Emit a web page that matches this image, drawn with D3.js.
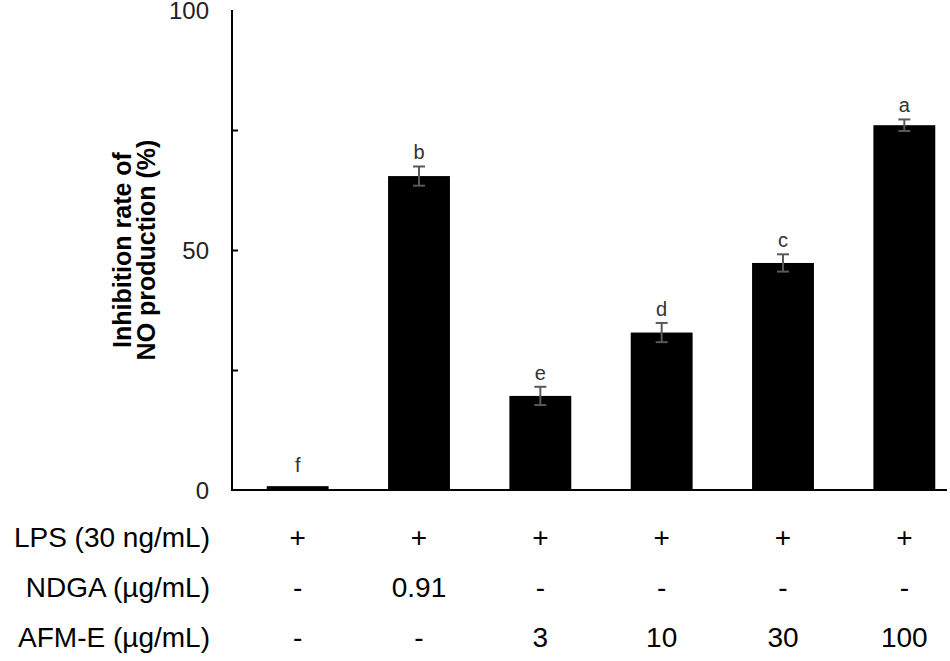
<!DOCTYPE html>
<html>
<head>
<meta charset="utf-8">
<script src="https://cdn.jsdelivr.net/npm/d3@7"></script>
<style>
  body { margin: 0; background: #fff; }
  text { font-family: "Liberation Sans", Arial, sans-serif; }
</style>
</head>
<body>
<div class="displayArea"></div>
<script>
// 数据
const groups = ["g1", "g2", "g3", "g4", "g5", "g6"];
const values = [0.8, 65.4, 19.6, 32.8, 47.3, 76.0];
const errors = [0, 2.0, 1.9, 2.0, 1.8, 1.2];
const letters = ["f", "b", "e", "d", "c", "a"];
const yTicks = [0, 50, 100];
const yMinorTicks = [25, 50, 75];
const rowLabels = ["LPS (30 ng/mL)", "NDGA (\u00b5g/mL)", "AFM-E (\u00b5g/mL)"];
const lpsRow = ["+", "+", "+", "+", "+", "+"];
const ndgaRow = ["-", "0.91", "-", "-", "-", "-"];
const afmRow = ["-", "-", "3", "10", "30", "100"];

const width = 950, height = 661;

const svg = d3.select(".displayArea").append("svg")
    .attr("width", width)
    .attr("height", height);

// 比例尺
const x = d3.scaleBand()
    .domain(groups)
    .range([237, 965])
    .paddingInner(0.49)
    .paddingOuter(0.245);

const y = d3.scaleLinear()
    .domain([0, 100])
    .range([490, 10]);

// 柱子
svg.selectAll(".bar")
    .data(values)
    .enter()
    .append("rect")
    .attr("class", "bar")
    .attr("x", (d, i) => x(groups[i]))
    .attr("y", d => y(d))
    .attr("width", x.bandwidth())
    .attr("height", d => y(0) - y(d))
    .style("fill", "#000");

// 误差线
const errG = svg.selectAll(".err")
    .data(values)
    .enter()
    .append("g")
    .attr("class", "err")
    .style("display", (d, i) => errors[i] > 0 ? null : "none")
    .attr("transform", (d, i) => `translate(${x(groups[i]) + x.bandwidth() / 2},0)`);

errG.append("line")
    .attr("y1", (d, i) => y(d + errors[i]))
    .attr("y2", (d, i) => y(d - errors[i]))
    .style("stroke", "#595959")
    .style("stroke-width", 2);

errG.selectAll(".cap")
    .data((d, i) => [d + errors[i], d - errors[i]])
    .enter()
    .append("line")
    .attr("class", "cap")
    .attr("x1", -6)
    .attr("x2", 6)
    .attr("y1", d => y(d))
    .attr("y2", d => y(d))
    .style("stroke", "#595959")
    .style("stroke-width", 2);

// 显著性字母
svg.selectAll(".letter")
    .data(letters)
    .enter()
    .append("text")
    .attr("class", "letter")
    .attr("x", (d, i) => x(groups[i]) + x.bandwidth() / 2)
    .attr("y", (d, i) => y(values[i] + errors[i]) - (errors[i] > 0 ? 7 : 14))
    .attr("text-anchor", "middle")
    .style("font-size", "20px")
    .style("fill", "#333")
    .text(d => d);

// 坐标轴
const yAxis = svg.append("g")
    .attr("transform", "translate(232,0)")
    .call(d3.axisRight(y).tickValues(yMinorTicks).tickSize(6).tickFormat(""));
yAxis.select(".domain")
    .attr("d", `M0,${y(100)}V${y(0)}`)
    .style("stroke-width", 2);
yAxis.selectAll(".tick line").style("stroke-width", 2);

svg.selectAll(".ytick")
    .data(yTicks)
    .enter()
    .append("text")
    .attr("class", "ytick")
    .attr("x", 209)
    .attr("y", d => y(d))
    .attr("dy", "0.36em")
    .attr("text-anchor", "end")
    .style("font-size", "24px")
    .style("fill", "#222")
    .text(d => d);

svg.append("line")
    .attr("x1", 231)
    .attr("x2", 947)
    .attr("y1", y(0))
    .attr("y2", y(0))
    .style("stroke", "#000")
    .style("stroke-width", 2);

// Y轴标题
const yTitle = svg.append("text")
    .attr("transform", `translate(131,${y(50)}) rotate(-90)`)
    .attr("text-anchor", "middle")
    .style("font-size", "25px")
    .style("font-weight", "bold");
yTitle.append("tspan").attr("x", 0).attr("y", 0).text("Inhibition rate of");
yTitle.append("tspan").attr("x", 0).attr("y", 24).text("NO production (%)");

// 底部表格
const rows = [lpsRow, ndgaRow, afmRow];
const rowY = [537, 587, 637];

svg.selectAll(".rowLabel")
    .data(rowLabels)
    .enter()
    .append("text")
    .attr("class", "rowLabel")
    .attr("x", 210)
    .attr("y", (d, i) => rowY[i])
    .attr("dy", "0.36em")
    .attr("text-anchor", "end")
    .style("font-size", "28px")
    .style("fill", "#000")
    .text(d => d);

rows.forEach((row, r) => {
    svg.selectAll(".cell" + r)
        .data(row)
        .enter()
        .append("text")
        .attr("class", "cell" + r)
        .attr("x", (d, i) => x(groups[i]) + x.bandwidth() / 2)
        .attr("y", rowY[r])
        .attr("dy", "0.36em")
        .attr("text-anchor", "middle")
        .style("font-size", "28px")
        .style("fill", "#000")
        .text(d => d);
});
</script>
</body>
</html>
